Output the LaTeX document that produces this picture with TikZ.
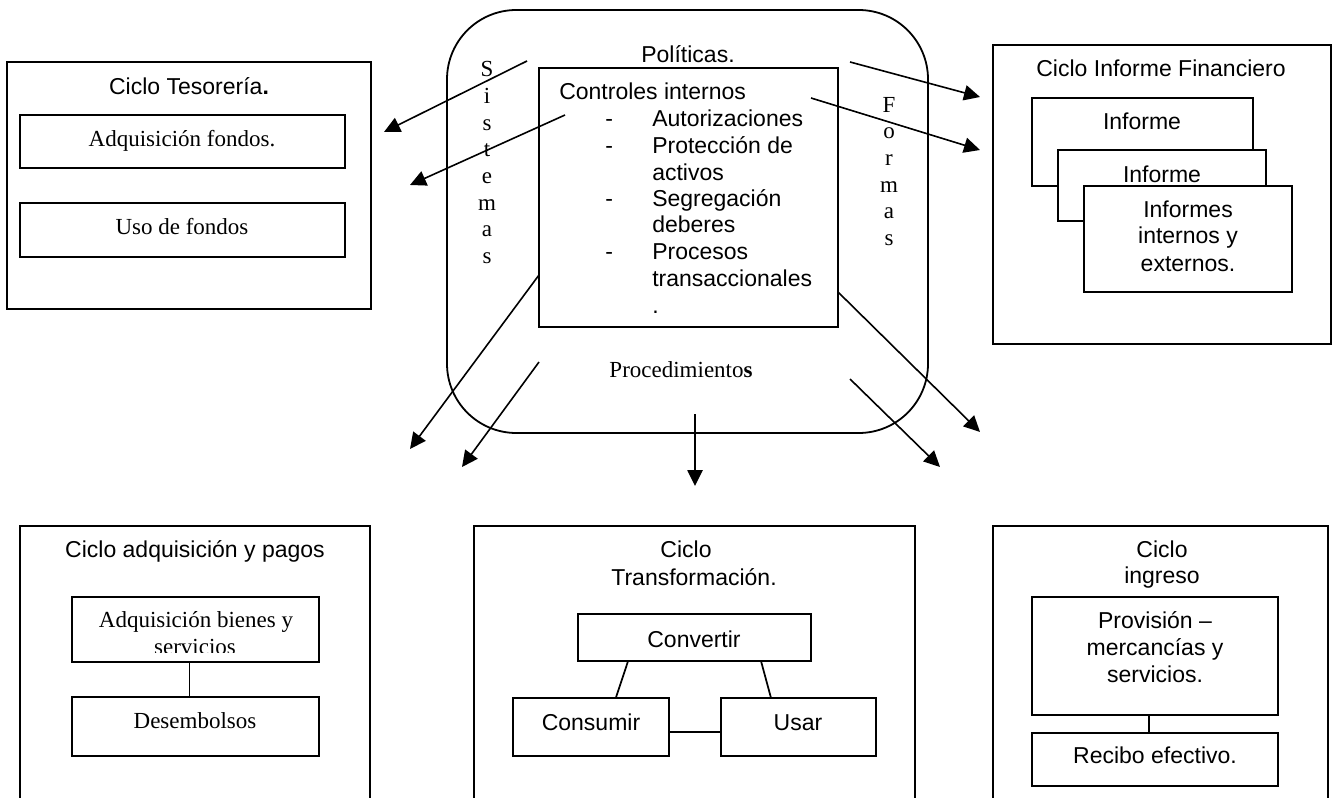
\documentclass[tikz,border=0pt]{standalone}
\usepackage{fontspec}
\setmainfont{Liberation Sans}
\newfontfamily\seriffont{Liberation Serif}
\usetikzlibrary{arrows.meta,fit}
\newcommand\fsz{\fontsize{17.25pt}{20pt}\selectfont}
\begin{document}
\begin{tikzpicture}[x=0.75pt,y=-0.75pt,
  box/.style={draw, line width=1.35pt, inner sep=0pt, fill=white},
  frame/.style={draw, line width=1.35pt, inner sep=0pt},
  t/.style={inner sep=0pt, anchor=base, font=\fsz},
  ts/.style={inner sep=0pt, anchor=base, font=\fsz\seriffont},
  tl/.style={inner sep=0pt, anchor=base west, font=\fsz},
  arr/.style={line width=1.2pt, -{Triangle[length=12pt,width=11.5pt]}},
  link/.style={line width=1.3pt}]
\useasboundingbox (0,0) rectangle (1337,798);
\clip (0,0) rectangle (1337,798);

% ---------------- central block ----------------
\node[frame, rounded corners=52pt, fit={(447,10) (928,433)}] (outer) {};
\node[frame, fit={(539,68) (838,327)}] (inner) {};
\node[t] (pol) at (688,63) {Políticas.};
\node[tl] (ci) at (559,100) {Controles internos};
\node[tl] (d1) at (605,127) {-};
\node[tl] (i1) at (652,127) {Autorizaciones};
\node[tl] (d2) at (605,154) {-};
\node[tl] (i2) at (652,154) {Protección de};
\node[tl] (i2b) at (652,181) {activos};
\node[tl] (d3) at (605,207) {-};
\node[tl] (i3) at (652,207) {Segregación};
\node[tl] (i3b) at (652,233) {deberes};
\node[tl] (d4) at (605,260) {-};
\node[tl] (i4) at (652,260) {Procesos};
\node[tl] (i4b) at (652,287) {transaccionales};
\node[tl] (i4c) at (652,314) {.};
\node[ts, anchor=north, align=center] (sis) at (487,61.5) {S\\i\\s\\t\\e\\m\\a\\s};
\node[ts, anchor=north, align=center] (form) at (889,97) {F\\o\\r\\m\\a\\s};
\node[ts] (proc) at (681,377) {Procedimiento\textbf{s}};

% ---------------- arrows ----------------
\coordinate (a1s) at (527,61);  \coordinate (a1e) at (384,132);
\coordinate (a2s) at (565,115); \coordinate (a2e) at (410,185);
\coordinate (a3s) at (539,275); \coordinate (a3e) at (410,449);
\coordinate (a4s) at (539,362); \coordinate (a4e) at (462,467);
\coordinate (a5s) at (695,414); \coordinate (a5e) at (695,486);
\coordinate (a6s) at (838,292); \coordinate (a6e) at (980,432);
\coordinate (a7s) at (850,379); \coordinate (a7e) at (940,467);
\coordinate (a8s) at (850,62);  \coordinate (a8e) at (980,97);
\coordinate (a9s) at (811,98);  \coordinate (a9e) at (980,150);
\foreach \i in {1,...,9} {\draw[arr] (a\i s) -- (a\i e);}

% ---------------- Ciclo Tesoreria ----------------
\node[box, fit={(7,62) (371,309)}] (tes) {};
\node[t] (testit) at (189,95) {Ciclo Tesorería\textbf{.}};
\node[box, fit={(20,115) (345,168)}] (adqf) {};
\node[ts] (adqft) at (182,147) {Adquisición fondos.};
\node[box, fit={(20,203) (345,257)}] (uso) {};
\node[ts] (usot) at (182,235) {Uso de fondos};

% ---------------- Ciclo Informe Financiero ----------------
\node[box, fit={(993,45) (1331,344)}] (inf) {};
\node[t] (inftit) at (1161,77) {Ciclo Informe Financiero};
\node[box, fit={(1032,98) (1253,186)}] (infa) {};
\node[t] (infat) at (1142,130) {Informe};
\node[box, fit={(1058,150) (1266,221)}] (infb) {};
\node[t] (infbt) at (1162,183) {Informe};
\node[box, fit={(1084,186) (1292,292)}] (infc) {};
\node[t] (infc1) at (1188,218) {Informes};
\node[t] (infc2) at (1188,244) {internos y};
\node[t] (infc3) at (1188,272) {externos.};

% ---------------- Ciclo adquisicion y pagos ----------------
\node[box, fit={(20,526) (370,830)}] (adqp) {};
\node[t] (adqptit) at (195,557) {Ciclo adquisición y pagos};
\node[box, fit={(72,597) (319,662)}] (abs) {};
\begin{scope}
  \clip (72,597) rectangle (319,652);
  \node[ts] (abst1) at (196,627) {Adquisición bienes y};
  \node[ts] (abst2) at (195,654) {servicios};
\end{scope}
\node[box, fit={(72,697) (319,756)}] (des) {};
\node[ts] (dest) at (195,728) {Desembolsos};
\draw[link] ([xshift=-4.5pt]abs.south) -- ([xshift=-4.5pt]des.north);

% ---------------- Ciclo Transformacion ----------------
\node[box, fit={(474,526) (915,830)}] (tra) {};
\node[t] (tratit1) at (686,557) {Ciclo};
\node[t] (tratit2) at (694,585) {Transformación.};
\node[box, fit={(578,614) (811,661)}] (conv) {};
\node[t] (convt) at (694,647) {Convertir};
\node[box, fit={(513,698) (669,756)}] (cons) {};
\node[t] (const) at (591,730) {Consumir};
\node[box, fit={(721,698) (876,756)}] (usar) {};
\node[t] (usart) at (798,730) {Usar};
\draw[link] ([xshift=38pt]conv.south west) -- ([xshift=78pt]cons.north west);
\draw[link] ([xshift=-38pt]conv.south east) -- ([xshift=38pt]usar.north west);
\draw[link] ([yshift=-3.5pt]cons.east) -- ([yshift=-3.5pt]usar.west);

% ---------------- Ciclo ingreso ----------------
\node[box, fit={(993,526) (1328,830)}] (ing) {};
\node[t] (ingtit1) at (1162,557) {Ciclo};
\node[t] (ingtit2) at (1162,583) {ingreso};
\node[box, fit={(1032,597) (1278,715)}] (prov) {};
\node[t] (prov1) at (1155,628) {Provisión –};
\node[t] (prov2) at (1155,655) {mercancías y};
\node[t] (prov3) at (1155,682) {servicios.};
\node[box, fit={(1032,733) (1278,786)}] (rec) {};
\node[t] (rect) at (1155,763) {Recibo efectivo.};
\draw[link] ([xshift=-4.5pt]prov.south) -- ([xshift=-4.5pt]rec.north);
\end{tikzpicture}
\end{document}
